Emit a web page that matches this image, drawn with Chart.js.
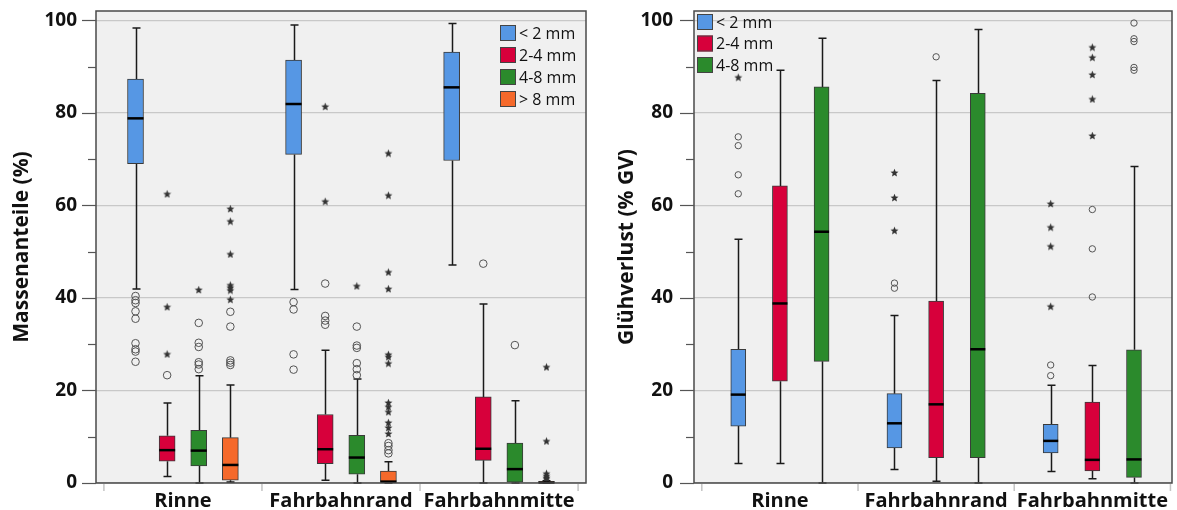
<!DOCTYPE html>
<html>
<head>
<meta charset="utf-8">
<script src="https://cdn.jsdelivr.net/npm/chart.js@4.4.0/dist/chart.umd.min.js"></script>
<style>
  body { margin: 0; background: #fff; width: 1177px; height: 510px; overflow: hidden; position: relative; }
  #links { position: absolute; left: 0; top: 0; }
  #rechts { position: absolute; left: 600px; top: 0; }
</style>
</head>
<body>
<canvas id="links" width="592" height="510"></canvas>
<canvas id="rechts" width="577" height="510"></canvas>
<script>
// Kategorien und Fraktionen
const categories = ['Rinne', 'Fahrbahnrand', 'Fahrbahnmitte'];
const classesMasse = ['< 2 mm', '2-4 mm', '4-8 mm', '> 8 mm'];
const classesGV = ['< 2 mm', '2-4 mm', '4-8 mm'];
const yTicks = [0, 20, 40, 60, 80, 100];

// Boxplots: [Whisker unten, Q1, Median, Q3, Whisker oben] je Kategorie
// Massenanteile (%)
const masseLt2 = [[41.9, 69.0, 78.8, 87.3, 98.3], [41.8, 71.0, 81.9, 91.4, 99.0], [47.1, 69.7, 85.5, 93.1, 99.3]];
const masse2to4 = [[1.4, 4.7, 7.1, 10.2, 17.3], [0.6, 4.2, 7.3, 14.8, 28.7], [0, 4.9, 7.4, 18.6, 38.7]];
const masse4to8 = [[0, 3.7, 7.0, 11.4, 23.2], [0, 1.9, 5.5, 10.3, 22.5], [0, 0.2, 3.0, 8.6, 17.8]];
const masseGt8 = [[0.2, 0.6, 3.9, 9.8, 21.2], [0, 0.1, 0.3, 2.6, 4.6], [0, 0, 0.1, 0.3, 0.5]];

// Ausreisser (Kreis) und Extremwerte (Stern)
const masseLt2Circles = [[40.4, 39.5, 38.9, 37.1, 35.5, 30.2, 28.9, 28.4, 26.2], [39.1, 37.5, 27.8, 24.5], []];
const masseLt2Stars = [[], [], []];
const masse2to4Circles = [[23.3], [43.1, 36.1, 35.1, 34.2], [47.4]];
const masse2to4Stars = [[62.5, 38.1, 27.9], [81.4, 60.9], []];
const masse4to8Circles = [[34.6, 30.3, 29.4, 26.1, 25.6, 24.6], [33.8, 29.7, 29.2, 25.9, 24.6, 23.3], [29.8]];
const masse4to8Stars = [[41.8], [42.6], []];
const masseGt8Circles = [[37.0, 33.8, 26.5, 26.0, 25.5], [8.6, 8.0, 7.1, 6.4], []];
const masseGt8Stars = [[59.3, 56.6, 49.5, 42.8, 42.3, 41.7, 39.7],
  [71.3, 62.2, 45.6, 42.0, 27.8, 27.3, 25.9, 17.4, 16.5, 15.4, 13.1, 12.0, 10.7],
  [25.1, 9.1, 2.1, 1.6, 1.2, 0.9]];

// Glühverlust (% GV)
const gvLt2 = [[4.2, 12.3, 19.1, 28.9, 52.7], [2.9, 7.6, 12.9, 19.3, 36.2], [2.5, 6.5, 9.1, 12.7, 21.1]];
const gv2to4 = [[4.2, 22.0, 38.8, 64.2, 89.2], [0.4, 5.5, 17.0, 39.3, 87.0], [0.9, 2.6, 5.0, 17.5, 25.4]];
const gv4to8 = [[0, 26.3, 54.3, 85.6, 96.1], [0, 5.5, 28.9, 84.2, 98.0], [0, 1.2, 5.1, 28.8, 68.4]];

const gvLt2Circles = [[74.8, 72.9, 66.6, 62.5], [43.2, 42.1], [25.5, 23.2]];
const gvLt2Stars = [[87.7], [67.1, 61.7, 54.6], [60.4, 55.3, 51.2, 38.2]];
const gv2to4Circles = [[], [92.1], [59.1, 50.6, 40.2]];
const gv2to4Stars = [[], [], [94.2, 92.0, 88.3, 83.0, 75.1]];
const gv4to8Circles = [[], [], [99.4, 96.0, 95.4, 89.8, 89.2]];
const gv4to8Stars = [[], [], []];

// Farben
const classColors = ['#5697e4', '#d7003b', '#2b8a2c', '#f5692b'];
const FONT = '"Open Sans", "DejaVu Sans", sans-serif';

// Stern als Punktform
function makeStar(size) {
  const c = document.createElement('canvas');
  c.width = size; c.height = size;
  const g = c.getContext('2d');
  const r = size / 2, ri = r * 0.42;
  g.beginPath();
  for (let k = 0; k < 10; k++) {
    const rad = k % 2 ? ri : r - 0.3;
    const a = -Math.PI / 2 + k * Math.PI / 5;
    g.lineTo(r + rad * Math.cos(a), r + 0.5 + rad * Math.sin(a));
  }
  g.closePath();
  g.fillStyle = '#333';
  g.fill();
  return c;
}
const starImg = makeStar(9);

function buildDatasets(names, boxes, circles, stars, thickness, circleR) {
  const n = names.length;
  const slot = 0.8 / n;
  const sets = [];
  names.forEach((name, j) => {
    const off = (j - (n - 1) / 2) * slot;
    sets.push({
      type: 'bar',
      label: name,
      stats: boxes[j],
      data: categories.map((c, i) => ({ x: i + off, y: [boxes[j][i][1], boxes[j][i][3]] })),
      backgroundColor: classColors[j],
      borderColor: '#3a3a3a',
      borderWidth: 1,
      borderSkipped: false,
      barThickness: thickness,
      grouped: false,
      order: 2
    });
    const pts = (arr) => arr.flatMap((vals, i) => vals.map(v => ({ x: i + off, y: v })));
    sets.push({
      type: 'scatter',
      label: '',
      data: pts(circles[j]),
      pointStyle: 'circle',
      pointRadius: circleR,
      backgroundColor: 'rgba(0,0,0,0)',
      borderColor: '#555',
      borderWidth: 1,
      order: 1
    });
    sets.push({
      type: 'scatter',
      label: '',
      data: pts(stars[j]),
      pointStyle: starImg,
      order: 1
    });
  });
  return sets;
}

// Plugin: Hintergrund, Whisker, Median, Rahmen, Achsenstriche, Legende
const boxPlugin = {
  id: 'boxplot',
  beforeDraw(chart) {
    const a = chart.chartArea, ctx = chart.ctx;
    ctx.save();
    ctx.fillStyle = '#f0f0f0';
    ctx.fillRect(a.left, a.top, a.right - a.left, a.bottom - a.top);
    ctx.restore();
  },
  beforeDatasetsDraw(chart) {
    const ctx = chart.ctx, y = chart.scales.y;
    ctx.save();
    ctx.strokeStyle = '#1a1a1a';
    ctx.lineWidth = 1.5;
    chart.data.datasets.forEach((ds, di) => {
      if (!ds.stats) return;
      chart.getDatasetMeta(di).data.forEach((el, i) => {
        const s = ds.stats[i];
        const x = Math.round(el.x) + 0.5;
        ctx.beginPath();
        ctx.moveTo(x, y.getPixelForValue(s[0]));
        ctx.lineTo(x, y.getPixelForValue(s[1]));
        ctx.moveTo(x, y.getPixelForValue(s[3]));
        ctx.lineTo(x, y.getPixelForValue(s[4]));
        [s[0], s[4]].forEach(v => {
          const py = y.getPixelForValue(v);
          ctx.moveTo(x - 4, py);
          ctx.lineTo(x + 4, py);
        });
        ctx.stroke();
      });
    });
    ctx.restore();
  },
  afterDatasetsDraw(chart) {
    const ctx = chart.ctx, y = chart.scales.y;
    ctx.save();
    ctx.strokeStyle = '#000';
    ctx.lineWidth = 2.5;
    chart.data.datasets.forEach((ds, di) => {
      if (!ds.stats) return;
      chart.getDatasetMeta(di).data.forEach((el, i) => {
        const py = y.getPixelForValue(ds.stats[i][2]);
        ctx.beginPath();
        ctx.moveTo(el.x - el.width / 2, py);
        ctx.lineTo(el.x + el.width / 2, py);
        ctx.stroke();
      });
    });
    ctx.restore();
  },
  afterDraw(chart) {
    const a = chart.chartArea, ctx = chart.ctx;
    const y = chart.scales.y, x = chart.scales.x;
    const opts = chart.options.plugins.boxplot;
    ctx.save();
    // Rahmen
    ctx.strokeStyle = '#4a4a4a';
    ctx.lineWidth = 1.5;
    ctx.strokeRect(a.left, a.top, a.right - a.left, a.bottom - a.top);
    // y-Striche
    ctx.lineWidth = 1.2;
    ctx.strokeStyle = '#555';
    for (let v = 0; v <= 100; v += 10) {
      const py = Math.round(y.getPixelForValue(v)) + 0.5;
      const len = v % 20 === 0 ? 14 : 8;
      ctx.beginPath();
      ctx.moveTo(a.left - len, py);
      ctx.lineTo(a.left, py);
      ctx.stroke();
    }
    // x-Striche an Kategoriegrenzen
    ctx.strokeStyle = '#c4c4c4';
    ctx.lineWidth = 1.5;
    for (let v = -0.5; v <= 2.5; v += 1) {
      const px = x.getPixelForValue(v);
      if (px > a.right) continue;
      ctx.beginPath();
      ctx.moveTo(px, a.bottom + 1);
      ctx.lineTo(px, a.bottom + 8);
      ctx.stroke();
    }
    // Legende
    ctx.font = '16px ' + FONT;
    ctx.textBaseline = 'middle';
    ctx.textAlign = 'left';
    let row = 0;
    chart.data.datasets.forEach(ds => {
      if (!ds.stats) return;
      const cy = opts.legendY + row * opts.legendStep;
      ctx.fillStyle = ds.backgroundColor;
      ctx.fillRect(opts.legendX, cy - 8, 16, 16);
      ctx.strokeStyle = '#444';
      ctx.lineWidth = 1;
      ctx.strokeRect(opts.legendX + 0.5, cy - 7.5, 15, 15);
      ctx.fillStyle = '#111';
      ctx.fillText(ds.label, opts.legendX + 19, cy + 1);
      row++;
    });
    ctx.restore();
  }
};

function noPad(s) {
  s.paddingTop = 0; s.paddingBottom = 0;
  s.paddingLeft = 0; s.paddingRight = 0;
}

function makeChart(id, datasets, title, yWidth, titlePad, tickPad, xMax, padRight, legend) {
  return new Chart(document.getElementById(id), {
    data: { datasets: datasets },
    plugins: [boxPlugin],
    options: {
      responsive: false,
      animation: false,
      events: [],
      layout: { padding: { top: 11, right: padRight, left: 0, bottom: 0 } },
      plugins: {
        legend: { display: false },
        tooltip: { enabled: false },
        boxplot: legend
      },
      scales: {
        x: {
          type: 'linear',
          offset: false,
          min: -0.55,
          max: xMax,
          afterBuildTicks: s => { s.ticks = [0, 1, 2].map(v => ({ value: v })); },
          afterFit: s => { s.height = 27; noPad(s); },
          ticks: {
            callback: v => categories[v],
            autoSkip: false,
            maxRotation: 0,
            padding: -2,
            color: '#111',
            font: { family: FONT, size: 20, weight: 'bold' }
          },
          grid: { display: false },
          border: { display: false }
        },
        y: {
          min: 0,
          max: 102,
          afterBuildTicks: s => { s.ticks = yTicks.map(v => ({ value: v })); },
          afterFit: s => { s.width = yWidth; noPad(s); },
          ticks: {
            padding: tickPad,
            color: '#111',
            font: { family: FONT, size: 19, weight: 'bold' }
          },
          grid: { color: '#c8c8c8', lineWidth: 1.2, drawTicks: false },
          border: { display: false },
          title: {
            display: true,
            text: title,
            color: '#111',
            padding: { top: titlePad, bottom: 0 },
            font: { family: FONT, size: 21, weight: 'bold' }
          }
        }
      }
    }
  });
}

makeChart('links',
  buildDatasets(classesMasse,
    [masseLt2, masse2to4, masse4to8, masseGt8],
    [masseLt2Circles, masse2to4Circles, masse4to8Circles, masseGt8Circles],
    [masseLt2Stars, masse2to4Stars, masse4to8Stars, masseGt8Stars], 16, 3.8),
  'Massenanteile (%)', 96, 9, 19, 2.55, 6,
  { legendX: 500, legendY: 33, legendStep: 22 });

makeChart('rechts',
  buildDatasets(classesGV,
    [gvLt2, gv2to4, gv4to8],
    [gvLt2Circles, gv2to4Circles, gv4to8Circles],
    [gvLt2Stars, gv2to4Stars, gv4to8Stars], 15, 3.2),
  'Glühverlust (% GV)', 94, 14, 21, 2.51, 0,
  { legendX: 97, legendY: 22, legendStep: 21.5 });
</script>
</body>
</html>
